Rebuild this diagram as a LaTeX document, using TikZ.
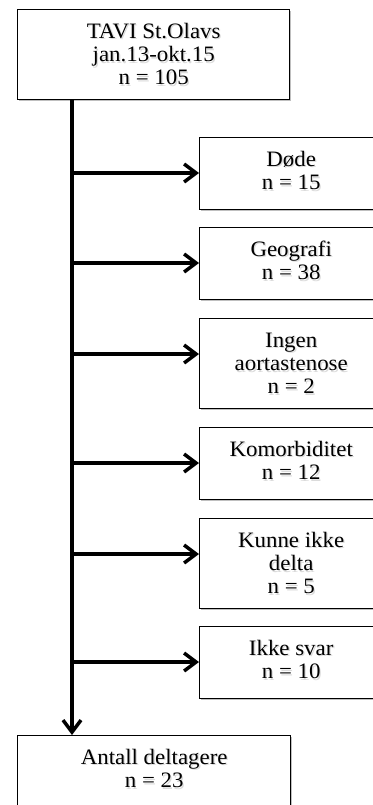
\documentclass[tikz,border=0pt]{standalone}
\usepackage{fontspec}
\setmainfont{Liberation Serif}[FakeStretch=1.04]
\usetikzlibrary{arrows.meta,shadows,calc}

\tikzset{
  box/.style={draw=black, line width=1.4pt, fill=white, rectangle,
    anchor=north west, inner sep=0pt,
    drop shadow={shadow xshift=1pt, shadow yshift=-1.2pt, opacity=0.25, fill=black}},
  boxtext/.style={anchor=north, inner sep=0pt, align=center,
    font=\fontsize{22}{23.3}\selectfont},
  textshade/.style={boxtext, text=black!25, opacity=0.55},
  flow/.style={line width=3.5pt, -{Straight Barb[length=12pt,width=18pt]}},
}

% text of a box: a soft grey copy under the black text
\newcommand\flowlabel[3]{%
  \node[textshade] (#1s) at ([xshift=1.3pt,yshift=-14.2pt]#2.north) {\strut #3};
  \node[boxtext] (#1) at ([yshift=-12.7pt]#2.north) {\strut #3};
}

\begin{document}
\begin{tikzpicture}[x=1pt,y=-1pt]
  \useasboundingbox (0,0) rectangle (372,805);

  % boxes
  \node[box, minimum width=272pt, minimum height=90pt] (start) at (17,9) {};
  \node[box, minimum width=183pt, minimum height=72pt] (dead)  at (199,137) {};
  \node[box, minimum width=183pt, minimum height=72pt] (geo)   at (199,227) {};
  \node[box, minimum width=183pt, minimum height=90pt] (noas)  at (199,318) {};
  \node[box, minimum width=183pt, minimum height=72pt] (comor) at (199,427) {};
  \node[box, minimum width=183pt, minimum height=90pt] (unable) at (199,518) {};
  \node[box, minimum width=183pt, minimum height=72pt] (noans) at (199,626) {};
  \node[box, minimum width=273pt, minimum height=72pt] (final) at (17,735) {};

  % texts
  \flowlabel{startT}{start}{TAVI St.Olavs\\jan.13-okt.15\\n = 105}
  \flowlabel{deadT}{dead}{Døde\\n = 15}
  \flowlabel{geoT}{geo}{Geografi\\n = 38}
  \flowlabel{noasT}{noas}{Ingen\\aortastenose\\n = 2}
  \flowlabel{comorT}{comor}{Komorbiditet\\n = 12}
  \flowlabel{unableT}{unable}{Kunne ikke\\delta\\n = 5}
  \flowlabel{noansT}{noans}{Ikke svar\\n = 10}
  \flowlabel{finalT}{final}{Antall deltagere\\n = 23}

  % main line
  \coordinate (tx) at (72,0);
  \draw[flow] (tx |- start.south) -- (tx |- final.north);

  % exclusions
  \foreach \b in {dead,geo,noas,comor,unable,noans}{
    \coordinate (\b in) at ($(\b.north west)+(0,36)$);
    \draw[flow] (tx |- \b in) -- (\b in);
  }
\end{tikzpicture}
\end{document}
